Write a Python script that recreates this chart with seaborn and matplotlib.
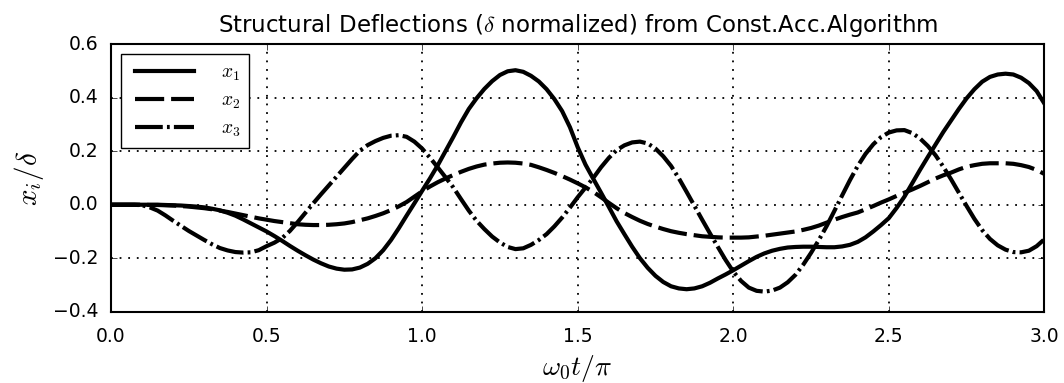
import numpy as np
import pandas as pd
import matplotlib
matplotlib.use("Agg")
import matplotlib.pyplot as plt
import seaborn as sns

# Time axis (omega_0 t / pi) and normalized deflections
t = [0.000, 0.025, 0.050, 0.075, 0.100, 0.125, 0.150, 0.175, 0.200, 0.225,
     0.250, 0.275, 0.300, 0.325, 0.350, 0.375, 0.400, 0.425, 0.450, 0.475,
     0.500, 0.525, 0.550, 0.575, 0.600, 0.625, 0.650, 0.675, 0.700, 0.725,
     0.750, 0.775, 0.800, 0.825, 0.850, 0.875, 0.900, 0.925, 0.950, 0.975,
     1.000, 1.025, 1.050, 1.075, 1.100, 1.125, 1.150, 1.175, 1.200, 1.225,
     1.250, 1.275, 1.300, 1.325, 1.350, 1.375, 1.400, 1.425, 1.450, 1.475,
     1.500, 1.525, 1.550, 1.575, 1.600, 1.625, 1.650, 1.675, 1.700, 1.725,
     1.750, 1.775, 1.800, 1.825, 1.850, 1.875, 1.900, 1.925, 1.950, 1.975,
     2.000, 2.025, 2.050, 2.075, 2.100, 2.125, 2.150, 2.175, 2.200, 2.225,
     2.250, 2.275, 2.300, 2.325, 2.350, 2.375, 2.400, 2.425, 2.450, 2.475,
     2.500, 2.525, 2.550, 2.575, 2.600, 2.625, 2.650, 2.675, 2.700, 2.725,
     2.750, 2.775, 2.800, 2.825, 2.850, 2.875, 2.900, 2.925, 2.950, 2.975,
     3.000]

x1 = [0.000, 0.000, 0.000, 0.000, 0.000, 0.000, 0.000, -0.001, -0.002, -0.003,
      -0.005, -0.007, -0.010, -0.015, -0.021, -0.030, -0.041, -0.055, -0.070, -0.085,
      -0.100, -0.117, -0.135, -0.154, -0.172, -0.189, -0.205, -0.219, -0.231, -0.239,
      -0.243, -0.242, -0.235, -0.221, -0.200, -0.170, -0.132, -0.088, -0.041, 0.005,
      0.052, 0.098, 0.147, 0.200, 0.253, 0.308, 0.358, 0.398, 0.433, 0.462,
      0.485, 0.499, 0.503, 0.497, 0.482, 0.461, 0.432, 0.395, 0.350, 0.290,
      0.215, 0.150, 0.097, 0.045, -0.008, -0.062, -0.110, -0.157, -0.200, -0.236,
      -0.266, -0.289, -0.305, -0.313, -0.316, -0.313, -0.305, -0.292, -0.276, -0.261,
      -0.245, -0.228, -0.211, -0.195, -0.182, -0.172, -0.165, -0.160, -0.158, -0.157,
      -0.157, -0.158, -0.159, -0.159, -0.156, -0.150, -0.139, -0.122, -0.100, -0.076,
      -0.050, -0.012, 0.030, 0.080, 0.130, 0.178, 0.225, 0.272, 0.315, 0.358,
      0.398, 0.432, 0.460, 0.478, 0.487, 0.490, 0.487, 0.475, 0.455, 0.425,
      0.378]

x2 = [0.000, 0.000, 0.000, 0.000, 0.000, -0.001, -0.001, -0.002, -0.003, -0.005,
      -0.007, -0.010, -0.013, -0.017, -0.022, -0.027, -0.033, -0.039, -0.045, -0.051,
      -0.056, -0.061, -0.065, -0.069, -0.073, -0.075, -0.076, -0.076, -0.075, -0.073,
      -0.070, -0.065, -0.058, -0.051, -0.042, -0.032, -0.020, -0.006, 0.010, 0.030,
      0.050, 0.068, 0.084, 0.098, 0.111, 0.123, 0.134, 0.143, 0.150, 0.154,
      0.157, 0.158, 0.157, 0.154, 0.149, 0.140, 0.130, 0.119, 0.107, 0.094,
      0.080, 0.065, 0.048, 0.028, 0.007, -0.013, -0.031, -0.046, -0.060, -0.072,
      -0.082, -0.091, -0.099, -0.105, -0.110, -0.114, -0.118, -0.120, -0.122, -0.123,
      -0.123, -0.123, -0.122, -0.119, -0.116, -0.112, -0.108, -0.104, -0.100, -0.094,
      -0.087, -0.078, -0.067, -0.056, -0.046, -0.037, -0.029, -0.017, -0.005, 0.008,
      0.020, 0.033, 0.045, 0.057, 0.070, 0.084, 0.098, 0.110, 0.120, 0.132,
      0.142, 0.148, 0.153, 0.155, 0.155, 0.155, 0.153, 0.148, 0.141, 0.130,
      0.115]

x3 = [0.000, 0.000, 0.000, 0.000, -0.002, -0.010, -0.022, -0.040, -0.060, -0.079,
      -0.098, -0.115, -0.132, -0.148, -0.162, -0.171, -0.177, -0.179, -0.178, -0.170,
      -0.155, -0.142, -0.125, -0.098, -0.065, -0.030, 0.005, 0.039, 0.072, 0.105,
      0.138, 0.171, 0.202, 0.223, 0.238, 0.250, 0.258, 0.260, 0.254, 0.236,
      0.210, 0.176, 0.140, 0.103, 0.065, 0.021, -0.022, -0.060, -0.091, -0.119,
      -0.141, -0.158, -0.166, -0.163, -0.150, -0.132, -0.110, -0.081, -0.048, -0.011,
      0.028, 0.064, 0.100, 0.140, 0.175, 0.204, 0.222, 0.233, 0.236, 0.229,
      0.210, 0.181, 0.145, 0.099, 0.048, -0.004, -0.056, -0.107, -0.157, -0.206,
      -0.250, -0.285, -0.310, -0.322, -0.325, -0.321, -0.310, -0.290, -0.262, -0.224,
      -0.180, -0.132, -0.080, -0.023, 0.035, 0.092, 0.145, 0.190, 0.226, 0.253,
      0.270, 0.278, 0.279, 0.268, 0.248, 0.220, 0.185, 0.142, 0.095, 0.045,
      -0.005, -0.053, -0.095, -0.128, -0.152, -0.168, -0.177, -0.178, -0.172, -0.155,
      -0.129]

series = ["x1", "x2", "x3"]
labels = ["$x_1$", "$x_2$", "$x_3$"]
xticks = [0.0, 0.5, 1.0, 1.5, 2.0, 2.5, 3.0]
yticks = [-0.4, -0.2, 0.0, 0.2, 0.4, 0.6]

df = pd.DataFrame({"t": t, "x1": x1, "x2": x2, "x3": x3})

# old matplotlib look
plt.style.use("classic")
plt.rcParams["lines.scale_dashes"] = False
plt.rcParams["lines.solid_joinstyle"] = "round"
plt.rcParams["lines.dash_joinstyle"] = "round"
plt.rcParams["mathtext.fontset"] = "cm"
plt.rcParams["font.family"] = ["DejaVu Sans"]
plt.rcParams["axes.linewidth"] = 1.5

fig = plt.figure(figsize=(10.64, 3.83), dpi=100, facecolor="white")
ax = fig.add_axes([0.1043, 0.1862, 0.8773, 0.6982])

line_styles = ["-", (0, (21, 5)), (0, (20, 3, 2, 3))]
for col, lab, ls in zip(series, labels, line_styles):
    sns.lineplot(data=df, x="t", y=col, ax=ax, color="black", linewidth=3,
                 linestyle=ls, label=lab, estimator=None, errorbar=None)

ax.set_xlim(0, 3)
ax.set_ylim(-0.4, 0.6)
ax.set_xticks(xticks)
ax.set_yticks(yticks)
ax.tick_params(labelsize=13.5, pad=9)
ax.tick_params(axis="x", pad=11)
ax.grid(True, color="black", linestyle=(0, (1.3, 4.9)), linewidth=1.3)

ax.set_xlabel(r"$\omega_0 t/\pi$", fontsize=20, labelpad=5)
ax.set_ylabel(r"$x_i/\delta$", fontsize=21, labelpad=5)
ax.set_title(r"Structural Deflections ($\delta$ normalized) from Const.Acc.Algorithm",
             fontsize=16.5, pad=9)

ax.legend(loc="upper left", fontsize=14, handlelength=3.6, handletextpad=1.1,
          labelspacing=0.4, borderpad=0.45, fancybox=False, frameon=True)

fig.savefig("out.png", dpi=100, facecolor="white")
